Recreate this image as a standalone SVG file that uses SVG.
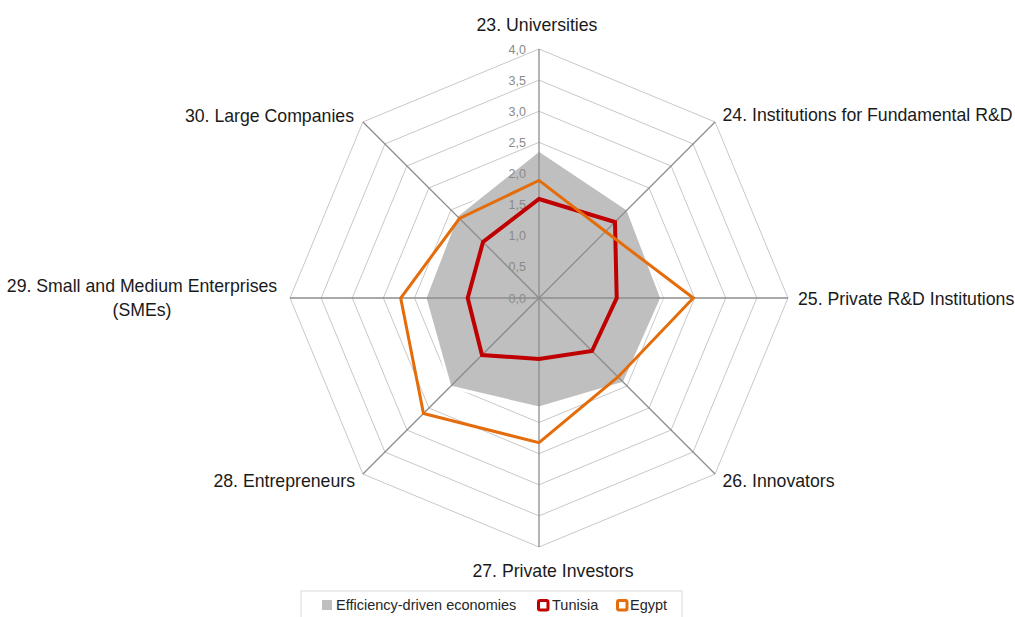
<svg xmlns="http://www.w3.org/2000/svg" width="1015" height="617" viewBox="0 0 1015 617">
<style>
.grid{fill:none;stroke:#c8c8c8;stroke-width:1}
.spoke{stroke:#8c8c8c;stroke-width:1.3}
.tick{font-family:"Liberation Sans",Arial,sans-serif;font-size:12.5px;fill:#8a8a8a;text-anchor:end}
.lab{font-family:"Liberation Sans",Arial,sans-serif;font-size:17.7px;fill:#1a1a1a}
.leg{font-family:"Liberation Sans",Arial,sans-serif;font-size:14.5px;fill:#262626}
.eff{fill:#bfbfbf;stroke:#ffffff;stroke-width:3;stroke-linejoin:round}
.tun{fill:none;stroke:#c00000;stroke-width:4;stroke-linejoin:miter}
.egy{fill:none;stroke:#e46c0a;stroke-width:3;stroke-linejoin:miter}
</style>
<rect width="1015" height="617" fill="#ffffff"/>
<g id="chart" transform="translate(539,298)">
  <g id="gridlines">
    <polygon class="grid" points="0,-31.1 22,-22 31.1,0 22,22 0,31.1 -22,22 -31.1,0 -22,-22"/>
    <polygon class="grid" points="0,-62.25 44.02,-44.02 62.25,0 44.02,44.02 0,62.25 -44.02,44.02 -62.25,0 -44.02,-44.02"/>
    <polygon class="grid" points="0,-93.38 66.03,-66.03 93.38,0 66.03,66.03 0,93.38 -66.03,66.03 -93.38,0 -66.03,-66.03"/>
    <polygon class="grid" points="0,-124.5 88.03,-88.03 124.5,0 88.03,88.03 0,124.5 -88.03,88.03 -124.5,0 -88.03,-88.03"/>
    <polygon class="grid" points="0,-155.63 110.04,-110.04 155.63,0 110.04,110.04 0,155.63 -110.04,110.04 -155.63,0 -110.04,-110.04"/>
    <polygon class="grid" points="0,-186.75 132.05,-132.05 186.75,0 132.05,132.05 0,186.75 -132.05,132.05 -186.75,0 -132.05,-132.05"/>
    <polygon class="grid" points="0,-217.88 154.06,-154.06 217.88,0 154.06,154.06 0,217.88 -154.06,154.06 -217.88,0 -154.06,-154.06"/>
    <polygon class="grid" points="0,-249 176.07,-176.07 249,0 176.07,176.07 0,249 -176.07,176.07 -249,0 -176.07,-176.07"/>
  </g>
  <g id="series-efficiency">
    <polygon class="eff" points="0,-148 88.7,-88.7 122.7,0 85,85 0,110 -89,89 -114,0 -82.3,-82.3"/>
  </g>
  <g id="axes">
    <line class="spoke" x1="0" y1="0" x2="0" y2="-249"/>
    <line class="spoke" x1="0" y1="0" x2="176.07" y2="-176.07"/>
    <line class="spoke" x1="0" y1="0" x2="249" y2="0"/>
    <line class="spoke" x1="0" y1="0" x2="176.07" y2="176.07"/>
    <line class="spoke" x1="0" y1="0" x2="0" y2="249"/>
    <line class="spoke" x1="0" y1="0" x2="-176.07" y2="176.07"/>
    <line class="spoke" x1="0" y1="0" x2="-249" y2="0"/>
    <line class="spoke" x1="0" y1="0" x2="-176.07" y2="-176.07"/>
  </g>
  <g id="ticks">
    <text class="tick" x="-13" y="4.5">0,0</text>
    <text class="tick" x="-13" y="-26.6">0,5</text>
    <text class="tick" x="-13" y="-57.75">1,0</text>
    <text class="tick" x="-13" y="-88.88">1,5</text>
    <text class="tick" x="-13" y="-120">2,0</text>
    <text class="tick" x="-13" y="-151.13">2,5</text>
    <text class="tick" x="-13" y="-182.25">3,0</text>
    <text class="tick" x="-13" y="-213.38">3,5</text>
    <text class="tick" x="-13" y="-244.5">4,0</text>
  </g>
  <g id="series-tunisia">
    <polygon class="tun" points="0,-99 76,-76 77.7,0 53,53 0,61 -57,57 -71.3,0 -56,-56"/>
  </g>
  <g id="series-egypt">
    <polygon class="egy" points="0,-117.6 66.5,-66.5 154.3,0 79,79 0,144.7 -115.5,115.5 -138.3,0 -79.5,-79.5"/>
  </g>
</g>
<g id="labels">
  <text class="lab" x="537" y="31" text-anchor="middle">23. Universities</text>
  <text class="lab" x="722.5" y="120.5">24. Institutions for Fundamental R&amp;D</text>
  <text class="lab" x="798" y="305">25. Private R&amp;D Institutions</text>
  <text class="lab" x="722.5" y="487">26. Innovators</text>
  <text class="lab" x="553" y="577" text-anchor="middle">27. Private Investors</text>
  <text class="lab" x="355" y="487" text-anchor="end">28. Entrepreneurs</text>
  <text class="lab" x="142" y="292" text-anchor="middle">29. Small and Medium Enterprises</text>
  <text class="lab" x="142" y="316" text-anchor="middle">(SMEs)</text>
  <text class="lab" x="354" y="121.5" text-anchor="end">30. Large Companies</text>
</g>
<g id="legend">
  <rect x="301" y="591" width="381" height="40" fill="#ffffff" stroke="#d9d9d9" stroke-width="1"/>
  <rect x="322" y="600" width="10" height="10" fill="#bfbfbf"/>
  <text class="leg" x="336" y="609.5">Efficiency-driven economies</text>
  <rect x="538.5" y="600.5" width="9.5" height="9.5" rx="1.5" fill="#ffffff" stroke="#c00000" stroke-width="3"/>
  <text class="leg" x="552" y="609.5">Tunisia</text>
  <rect x="617.5" y="600.5" width="9.5" height="9.5" rx="1.5" fill="#ffffff" stroke="#e46c0a" stroke-width="3"/>
  <text class="leg" x="630" y="609.5">Egypt</text>
</g>
</svg>
